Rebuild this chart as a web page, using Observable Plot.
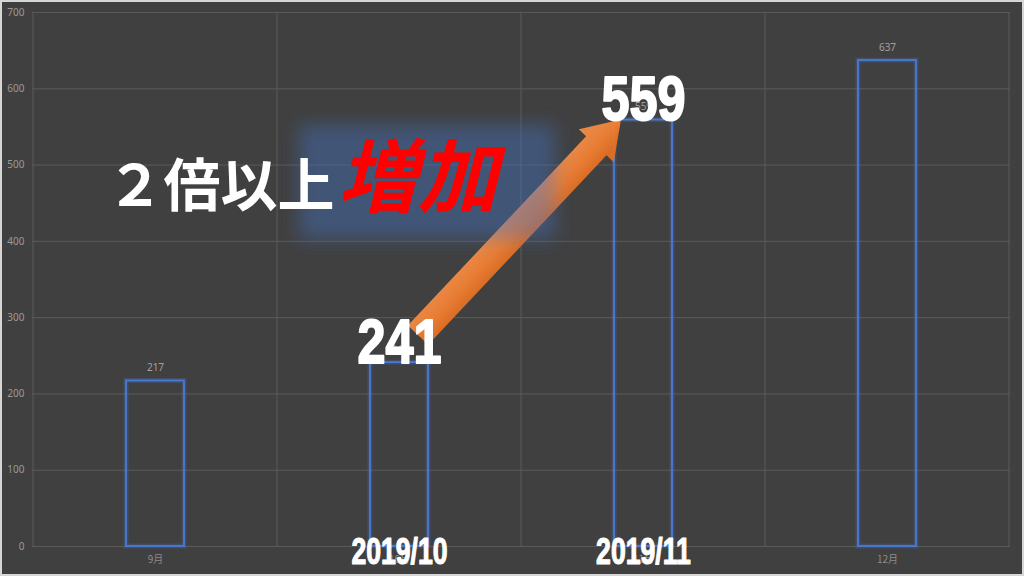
<!DOCTYPE html>
<html><head><meta charset="utf-8">
<script src="https://cdn.jsdelivr.net/npm/d3@7"></script>
<script src="https://cdn.jsdelivr.net/npm/@observablehq/plot@0.6"></script>
<style>
html,body{margin:0;padding:0;background:#d6d6d6;}
#frame{width:1024px;height:576px;box-sizing:border-box;border:2px solid #d6d6d6;overflow:hidden;background:#404040;}
#frame svg{display:block;}
</style></head><body><div id="frame"></div>
<script>
// ---- data ----
const months = ["9月","10月","11月","12月"];
const counts = [217, 241, 559, 637];
const yTicks = [0,100,200,300,400,500,600,700];
const highlightMonths = ["10月","11月"];
const periodLabels = ["2019/10","2019/11"];
const noteTexts = ["２倍以上","増加"];
const noteValue = [447];

const data = months.map((m,i)=>({month:m, count:counts[i]}));
const hi = data.filter(d=>highlightMonths.includes(d.month)).map((d,i)=>({...d, period: periodLabels[i]}));
const notePlain = [{month: months[0], value: noteValue[0], text: noteTexts[0]}];
const noteEmph = [{month: months[1], value: noteValue[0], text: noteTexts[1]}];

const W = 1020, H = 572;
const bigFont = "'Liberation Sans',Arial,sans-serif";
const cjkFont = "'Noto Sans CJK JP','Noto Sans',sans-serif";

function bandInfo(scales, dims){
  const x = scales.x;
  const bw = (x && typeof x.bandwidth === "function") ? x.bandwidth()
    : (dims.width - dims.marginLeft - dims.marginRight)/months.length;
  return {x, bw};
}

// vertical gridlines at category boundaries
const bandGrid = (index, scales, values, dims) => {
  const {x, bw} = bandInfo(scales, dims);
  const g = d3.create("svg:g");
  const xs = months.map(m=>x(m)).concat([x(months[months.length-1])+bw]);
  g.selectAll("line").data(xs).join("line")
    .attr("x1",d=>d).attr("x2",d=>d)
    .attr("y1",scales.y(yTicks[yTicks.length-1])).attr("y2",scales.y(0))
    .attr("stroke","#5a5a5a").attr("stroke-width",1);
  return g.node();
};

// orange arrow from 10月 value to 11月 value
const arrowMark = (index, scales, values, dims) => {
  const {x, bw} = bandInfo(scales, dims);
  const a = hi[0], b = hi[1];
  const x0 = x(a.month)+bw/2+19, y0 = scales.y(a.count)-27;
  const x1 = x(b.month)+bw/2-22, y1 = scales.y(b.count);
  const dx = x1-x0, dy = y1-y0, L = Math.hypot(dx,dy);
  const ux = dx/L, uy = dy/L, nx = -uy, ny = ux;
  const hw = 14, hh = 24, hl = 36;
  const bx = x1-ux*hl, by = y1-uy*hl;
  const pts = [
    [x0+nx*hw, y0+ny*hw],[bx+nx*hw, by+ny*hw],[bx+nx*hh, by+ny*hh],[x1,y1],
    [bx-nx*hh, by-ny*hh],[bx-nx*hw, by-ny*hw],[x0-nx*hw, y0-ny*hw]
  ];
  const g = d3.create("svg:g");
  const defs = g.append("defs");
  const grad = defs.append("linearGradient").attr("id","arrowGrad")
    .attr("gradientUnits","userSpaceOnUse")
    .attr("x1",x0+nx*hw).attr("y1",y0+ny*hw).attr("x2",x0-nx*hw).attr("y2",y0-ny*hw);
  grad.append("stop").attr("offset","0").attr("stop-color","#e06f24");
  grad.append("stop").attr("offset","0.5").attr("stop-color","#ef7f33");
  grad.append("stop").attr("offset","1").attr("stop-color","#f08a45");
  g.append("polygon").attr("points",pts.map(p=>p.join(",")).join(" "))
    .attr("fill","url(#arrowGrad)").attr("fill-opacity",0.96);
  return g.node();
};

// blurred blue box behind 増加
const glowMark = (index, scales, values, dims) => {
  const {x, bw} = bandInfo(scales, dims);
  const cx = x(noteEmph[0].month)+bw/2, cy = scales.y(noteEmph[0].value);
  const g = d3.create("svg:g");
  const f = g.append("defs").append("filter").attr("id","glowBlur")
    .attr("x","-30%").attr("y","-50%").attr("width","160%").attr("height","200%");
  f.append("feGaussianBlur").attr("stdDeviation",9);
  g.append("rect").attr("x",cx-100).attr("y",cy-80).attr("width",256).attr("height",114)
    .attr("fill","#4472c4").attr("fill-opacity",0.42).attr("filter","url(#glowBlur)");
  return g.node();
};

const plot = Plot.plot({
  width: W, height: H,
  marginLeft: 30, marginRight: 12, marginTop: 10, marginBottom: 28,
  style: {background:"#404040", color:"#9a9a9a", fontFamily: cjkFont, fontSize:"10px"},
  x: {type:"band", domain: months, padding: 0, label: null},
  y: {domain:[0,700], label: null},
  marks: [
    Plot.gridY(yTicks, {stroke:"#5a5a5a", strokeOpacity:1}),
    bandGrid,
    Plot.axisY(yTicks, {tickSize:0, tickPadding:8, fill:"#9a9a9a", fontSize:10, label:null, fontFamily:"'Noto Sans',sans-serif"}),
    Plot.axisX(months, {tickSize:0, tickPadding:9, fill:"#8c8c8c", fontSize:10, label:null}),
    Plot.barY(data, {x:"month", y:"count", fill:"none", stroke:"#4472c4", strokeWidth:5, strokeOpacity:0.28, insetLeft:93, insetRight:93}),
    Plot.barY(data, {x:"month", y:"count", fill:"none", stroke:"#4a7bd4", strokeWidth:1.8, insetLeft:93, insetRight:93}),
    Plot.text(data, {x:"month", y:"count", text:d=>String(d.count), dy:-13, fill:"#a0a0a0", fontSize:10, fontFamily:"'Noto Sans',sans-serif"}),
    arrowMark,
    glowMark,
    Plot.text(notePlain, {x:"month", y:"value", text:"text", textAnchor:"start", lineAnchor:"bottom", dx:-49, fontSize:57, fontWeight:"bold", fill:"#ffffff", fontFamily:cjkFont}),
    Plot.text(noteEmph, {x:"month", y:"value", text:"text", textAnchor:"start", lineAnchor:"bottom", dx:-62, fontSize:80, fontWeight:"bold", fontStyle:"italic", fill:"#ff0000", fontFamily:cjkFont}),
    Plot.text(hi, {x:"month", y:"count", text:d=>String(d.count), lineAnchor:"bottom", fontSize:63, fontWeight:"bold", fill:"#ffffff", stroke:"#ffffff", strokeWidth:2, fontFamily:bigFont}),
    Plot.text(hi, {x:"month", frameAnchor:"bottom", text:"period", lineAnchor:"bottom", dy:17, fontSize:37, fontWeight:"bold", fill:"#ffffff", stroke:"#ffffff", strokeWidth:1.2, fontFamily:bigFont})
  ]
});
// condense the big numerals horizontally (Impact-like look)
d3.select(plot).selectAll('g[aria-label="text"]').each(function(){
  const fs = this.getAttribute("font-size");
  if (fs === "63" || fs === "37") {
    const k = fs === "63" ? 0.8 : 0.72;
    d3.select(this).selectAll("text").each(function(){
      const t = this.getAttribute("transform") || "";
      this.setAttribute("transform", t + ` scale(${k},1)`);
    });
  }
});
document.getElementById("frame").appendChild(plot);
</script>
</body></html>
